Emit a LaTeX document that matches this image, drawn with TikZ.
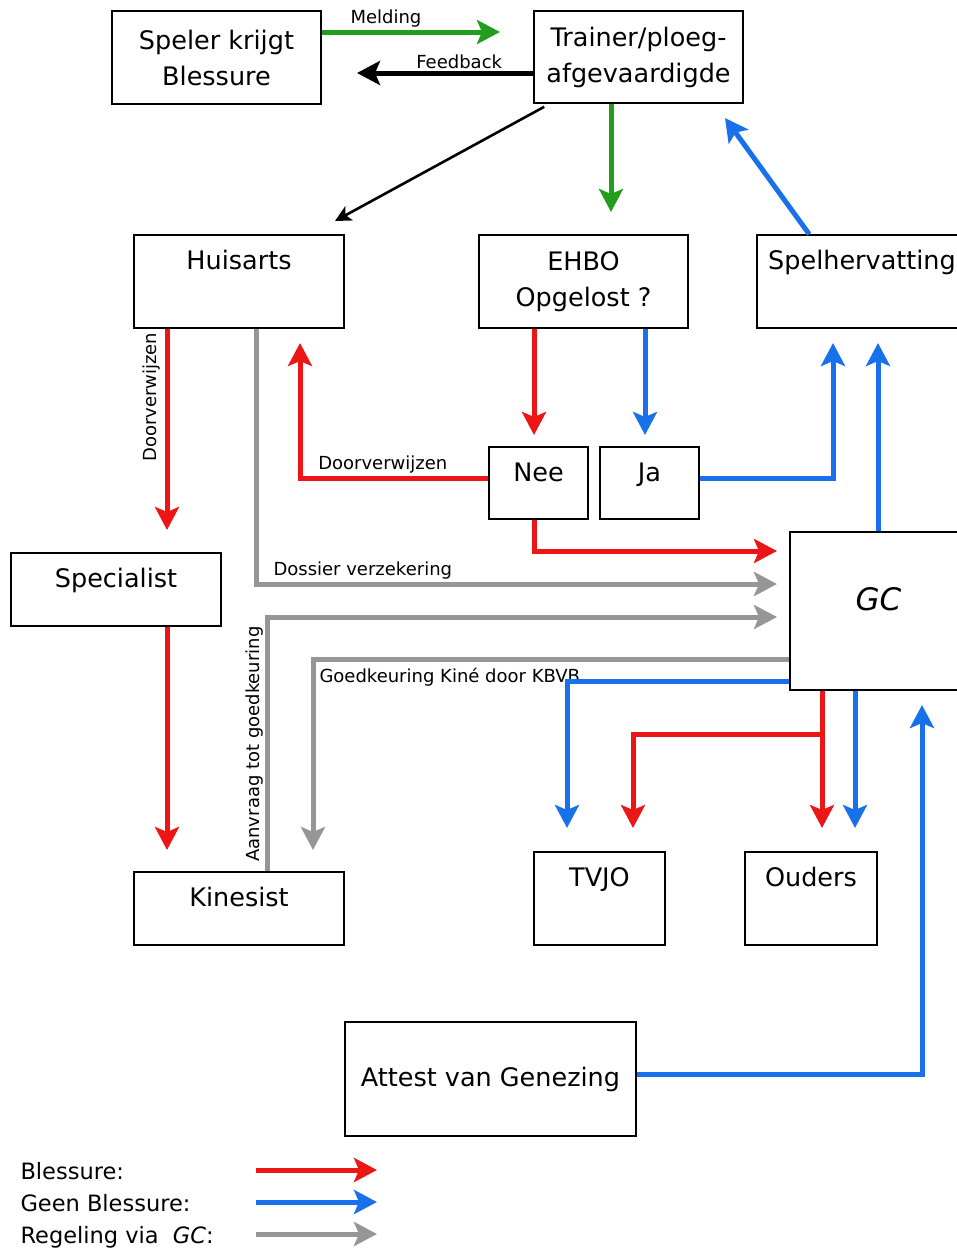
\documentclass[tikz,border=0pt]{standalone}
\usepackage{fontspec}
\setmainfont{DejaVu Sans}
\usetikzlibrary{arrows.meta}

\definecolor{rood}{RGB}{236,22,22}
\definecolor{blauw}{RGB}{24,112,235}
\definecolor{grijs}{RGB}{150,150,150}
\definecolor{groen}{RGB}{34,158,30}

\tikzset{
  box/.style={draw, line width=1.6pt, align=center, inner sep=0pt},
  topbox/.style={box, label={[anchor=base, yshift=-35pt]north:#1}},
  lbl/.style={text=black, font=\fontsize{18}{21}\selectfont, inner sep=2pt},
  pijl/.style={line width=5pt, -{Stealth[length=23pt, width=24pt, inset=5pt]}},
  dun/.style={line width=2.6pt, -{Stealth[length=16pt, width=16pt, inset=4pt]}},
}

\begin{document}
\begin{tikzpicture}[x=1pt, y=-1pt, font=\fontsize{25.5}{36}\selectfont]
\clip (0,0) rectangle (957,1248);

\node[box, minimum width=209, minimum height=93] (speler) at (216.5,57.5) {Speler krijgt\\Blessure};
\node[box, minimum width=209, minimum height=92] (trainer) at (638.5,57) {Trainer/ploeg-\\afgevaardigde};
\node[topbox=Huisarts, minimum width=210, minimum height=93] (huisarts) at (239,281.5) {};
\node[box, minimum width=209, minimum height=93] (ehbo) at (583.5,281.5) {EHBO\\Opgelost ?};
\node[topbox=Spelhervatting, minimum width=210, minimum height=93] (spel) at (862,281.5) {};
\node[topbox=Nee, minimum width=99, minimum height=72] (nee) at (538.5,483) {};
\node[topbox=Ja, minimum width=99, minimum height=72] (ja) at (649.5,483) {};
\node[topbox=Specialist, minimum width=210, minimum height=73] (specialist) at (116,589.5) {};
\node[box, minimum width=177, minimum height=158,
  label={[anchor=center, yshift=-68pt, font=\fontsize{31}{34}\selectfont\itshape]north:GC}] (gc) at (878.5,611) {};
\node[topbox=Kinesist, minimum width=210, minimum height=73] (kinesist) at (239,908.5) {};
\node[topbox=TVJO, minimum width=131, minimum height=93] (tvjo) at (599.5,898.5) {};
\node[topbox=Ouders, minimum width=132, minimum height=93] (ouders) at (811,898.5) {};
\node[box, minimum width=291, minimum height=114] (attest) at (490.5,1079) {Attest van Genezing};

\coordinate (meldEnd) at (500,32);
\coordinate (feedEnd) at (357,73);
\coordinate (huisIn) at (335,221);
\coordinate (ehboIn) at (611,212);
\coordinate (trainerIn) at (725,118);
\coordinate (specIn) at (167,530);
\coordinate (dossBend) at (256,584);
\coordinate (dossEnd) at (777,584);
\coordinate (neeBend) at (300,478);
\coordinate (neeUp) at (300,343);
\coordinate (neeIn) at (534,435);
\coordinate (jaIn) at (645,435);
\coordinate (jaBend) at (833,478);
\coordinate (jaUp) at (833,343);
\coordinate (gcUp) at (878,343);
\coordinate (neeDown) at (534,551);
\coordinate (neeGc) at (777,551);
\coordinate (kineIn) at (167,850);
\coordinate (aanBend) at (267,617);
\coordinate (aanEnd) at (777,617);
\coordinate (goedBend) at (313,659);
\coordinate (goedEnd) at (313,850);
\coordinate (tvjoBend) at (567,681);
\coordinate (tvjoIn) at (567,828);
\coordinate (roodIn) at (822,828);
\coordinate (roodSplit) at (822,734);
\coordinate (roodBend) at (633,734);
\coordinate (roodTvjo) at (633,828);
\coordinate (blauwIn) at (855,828);
\coordinate (attBend) at (922,1074);
\coordinate (attUp) at (922,705);

\draw[pijl, groen] (speler.east |- meldEnd) -- node[lbl, above, pos=.36] {Melding} (meldEnd);
\draw[pijl] (trainer.west |- feedEnd) -- node[lbl, above, pos=.42] {Feedback} (feedEnd);
\draw[dun] ([xshift=11pt, yshift=-3pt]trainer.south west) -- (huisIn);
\draw[pijl, groen] (trainer.south -| ehboIn) -- (ehboIn);
\draw[pijl, blauw] ([xshift=53pt]spel.north west) -- (trainerIn);

\draw[pijl, rood] (huisarts.south -| specIn) -- node[lbl, rotate=90, above, pos=.34, inner sep=4pt] {Doorverwijzen} (specIn);
\draw[pijl, grijs] (huisarts.south -| dossBend) -- (dossBend) -- node[lbl, above, pos=.205] {Dossier verzekering} (dossEnd);
\draw[pijl, rood] (nee.west |- neeBend) -- node[lbl, above, pos=.56] {Doorverwijzen} (neeBend) -- (neeUp);
\draw[pijl, rood] (ehbo.south -| neeIn) -- (neeIn);
\draw[pijl, blauw] (ehbo.south -| jaIn) -- (jaIn);
\draw[pijl, blauw] (ja.east |- jaBend) -- (jaBend) -- (jaUp);
\draw[pijl, blauw] (gc.north -| gcUp) -- (gcUp);
\draw[pijl, rood] (nee.south -| neeDown) -- (neeDown) -- (neeGc);

\draw[pijl, rood] (specialist.south -| kineIn) -- (kineIn);
\draw[pijl, grijs] (kinesist.north -| aanBend) -- node[lbl, rotate=90, above, inner sep=1pt] {Aanvraag tot goedkeuring} (aanBend) -- (aanEnd);
\draw[pijl, grijs] (gc.west |- goedBend) -- (goedBend) node[lbl, anchor=north west, xshift=2pt, yshift=-5pt] {Goedkeuring Kiné door KBVB} -- (goedEnd);
\draw[pijl, blauw] (gc.west |- tvjoBend) -- (tvjoBend) -- (tvjoIn);
\draw[pijl, rood] (gc.south -| roodIn) -- (roodIn);
\draw[pijl, rood] (roodSplit) -- (roodBend) -- (roodTvjo);
\draw[pijl, blauw] (gc.south -| blauwIn) -- (blauwIn);
\draw[pijl, blauw] (attest.east |- attBend) -- (attBend) -- (attUp);

\node[anchor=base west, font=\fontsize{22.5}{26}\selectfont] (lgRood) at (17,1179) {Blessure:};
\node[anchor=base west, font=\fontsize{22.5}{26}\selectfont] (lgBlauw) at (17,1211) {Geen Blessure:};
\node[anchor=base west, font=\fontsize{22.5}{26}\selectfont] (lgGrijs) at (17,1243) {Regeling via\ \ \textit{GC}:};
\coordinate (lgA) at (256,1170);
\coordinate (lgB) at (377,1170);
\draw[pijl, rood] (lgA) -- (lgB);
\draw[pijl, blauw] ([yshift=-32pt]lgA) -- ([yshift=-32pt]lgB);
\draw[pijl, grijs] ([yshift=-64pt]lgA) -- ([yshift=-64pt]lgB);
\end{tikzpicture}
\end{document}
